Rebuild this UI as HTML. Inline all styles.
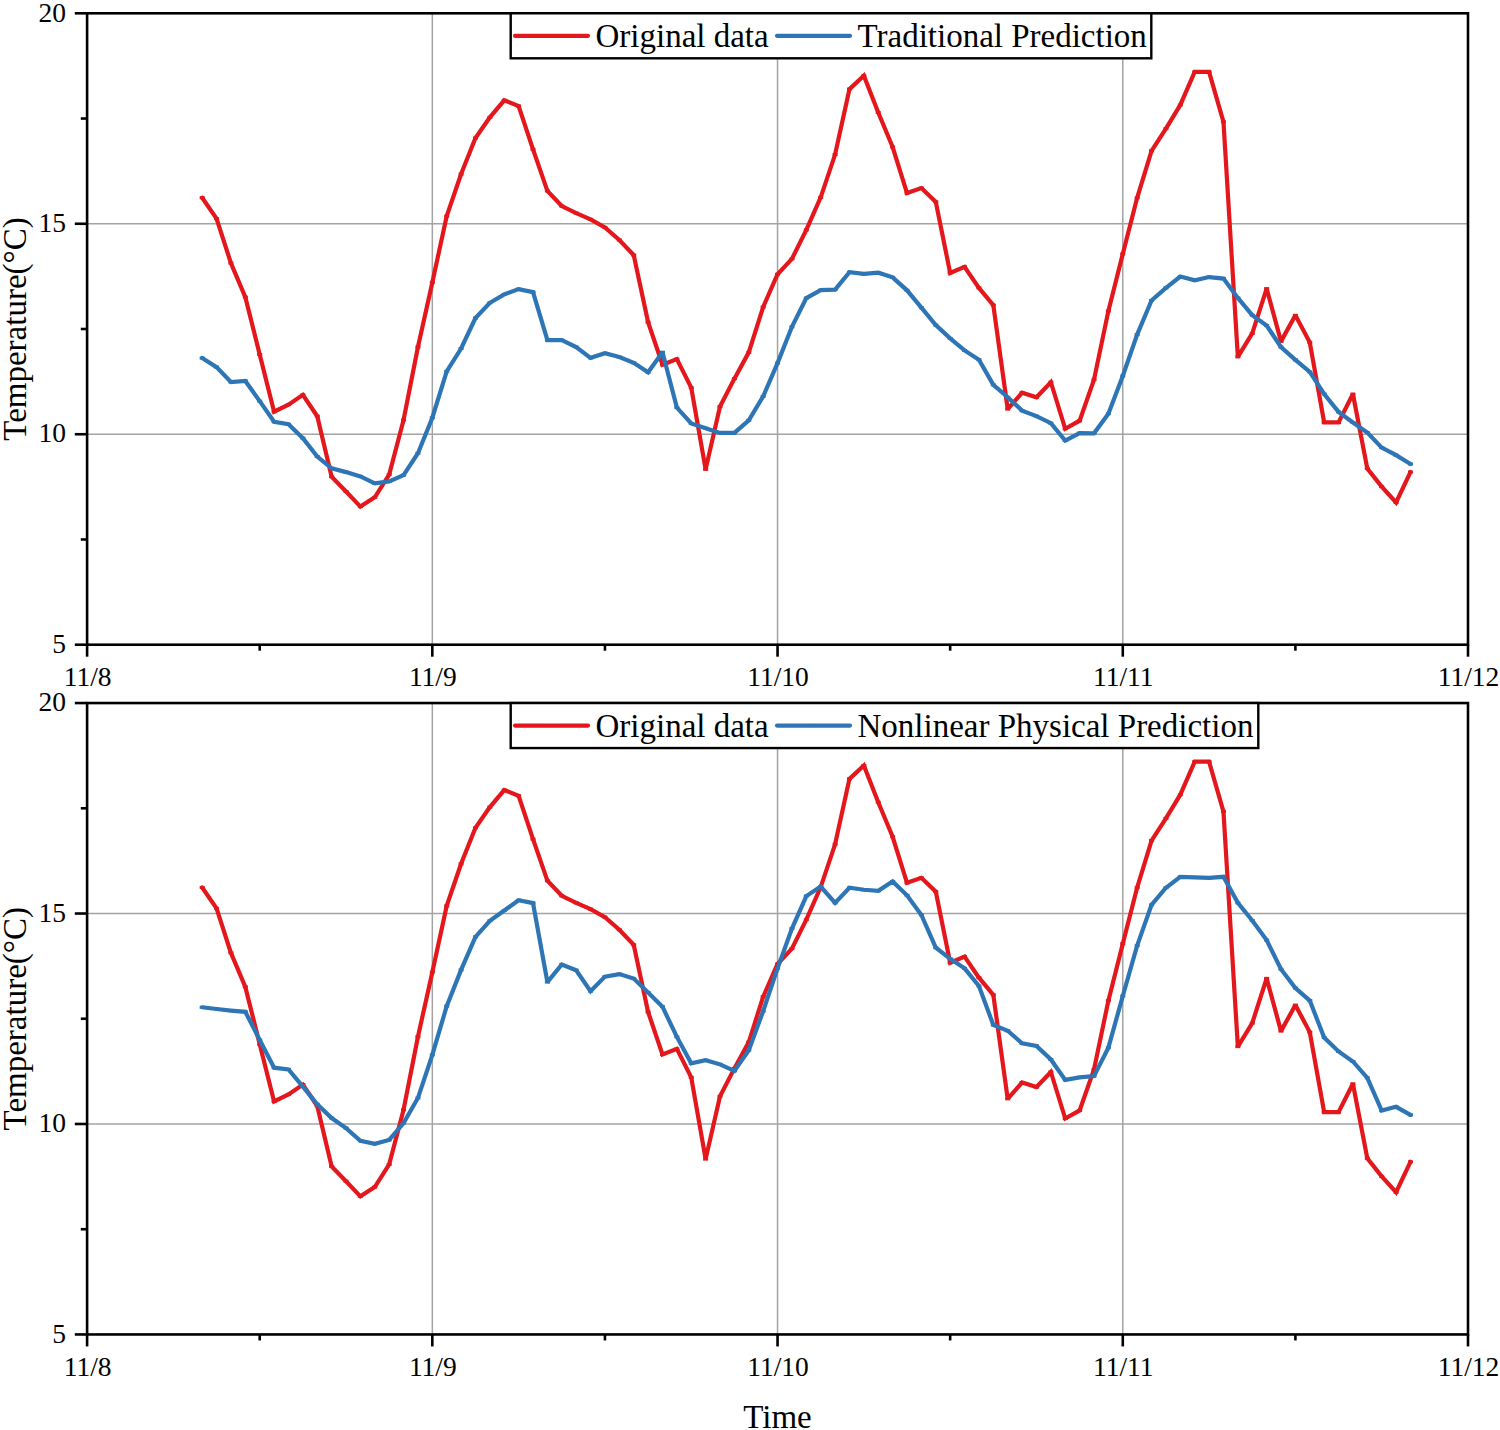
<!DOCTYPE html>
<html><head><meta charset="utf-8"><style>
html,body{margin:0;padding:0;background:#fff;width:1500px;height:1430px;overflow:hidden}
svg{display:block}
text{font-family:"Liberation Serif",serif;fill:#000}
.tk{font-size:27.5px}
.lb{font-size:33px}
.lg{font-size:33px}
</style></head><body>
<svg width="1500" height="1430" viewBox="0 0 1500 1430">
<line x1="87.1" x2="1468.0" y1="434.23" y2="434.23" stroke="#A3A3A3" stroke-width="1.5"/>
<line x1="87.1" x2="1468.0" y1="223.77" y2="223.77" stroke="#A3A3A3" stroke-width="1.5"/>
<line x1="432.33" x2="432.33" y1="13.3" y2="644.7" stroke="#A3A3A3" stroke-width="1.5"/>
<line x1="777.55" x2="777.55" y1="13.3" y2="644.7" stroke="#A3A3A3" stroke-width="1.5"/>
<line x1="1122.78" x2="1122.78" y1="13.3" y2="644.7" stroke="#A3A3A3" stroke-width="1.5"/>
<polyline points="202.18,197.69 216.56,218.59 230.94,263.15 245.33,297.14 259.71,354.54 274.10,411.69 288.48,404.64 302.87,394.82 317.25,416.22 331.63,476.65 346.02,491.50 360.40,506.61 374.79,497.29 389.17,474.63 403.56,420.00 417.94,346.99 432.33,282.42 446.71,216.08 461.09,174.05 475.48,138.05 489.86,117.40 504.25,100.28 518.63,106.07 533.02,149.38 547.40,190.92 561.78,206.02 576.17,213.07 590.55,219.37 604.94,227.42 619.32,240.01 633.71,255.12 648.09,322.22 662.48,364.77 676.86,359.10 691.24,387.68 705.63,469.39 720.01,406.56 734.40,378.62 748.78,352.32 763.17,307.00 777.55,274.27 791.93,258.85 806.32,229.89 820.70,197.35 835.09,154.55 849.47,89.09 863.86,75.75 878.24,112.51 892.62,147.00 907.01,193.07 921.39,188.04 935.78,201.88 950.16,272.95 964.55,266.85 978.93,287.88 993.32,305.12 1007.70,409.11 1022.08,392.75 1036.47,397.28 1050.85,382.18 1065.24,428.75 1079.62,420.69 1094.01,379.66 1108.39,310.91 1122.77,253.89 1137.16,197.85 1151.54,150.78 1165.93,128.62 1180.31,104.95 1194.70,71.97 1209.08,71.97 1223.47,121.82 1237.85,356.91 1252.23,333.41 1266.62,288.59 1281.00,341.37 1295.39,315.32 1309.77,342.38 1324.16,422.46 1338.54,422.46 1352.92,394.01 1367.31,468.53 1381.69,486.66 1396.08,502.52 1410.46,472.05" fill="none" stroke="#E3171C" stroke-width="4.2" stroke-linejoin="miter" stroke-miterlimit="2" stroke-linecap="round"/>
<rect x="199.68" y="196.19" width="5" height="3" fill="#E3171C"/><rect x="214.06" y="217.09" width="5" height="3" fill="#E3171C"/><rect x="228.44" y="261.65" width="5" height="3" fill="#E3171C"/><rect x="242.83" y="295.64" width="5" height="3" fill="#E3171C"/><rect x="257.21" y="353.04" width="5" height="3" fill="#E3171C"/><rect x="271.60" y="410.19" width="5" height="3" fill="#E3171C"/><rect x="285.98" y="403.14" width="5" height="3" fill="#E3171C"/><rect x="300.37" y="393.32" width="5" height="3" fill="#E3171C"/><rect x="314.75" y="414.72" width="5" height="3" fill="#E3171C"/><rect x="329.13" y="475.15" width="5" height="3" fill="#E3171C"/><rect x="343.52" y="490.00" width="5" height="3" fill="#E3171C"/><rect x="357.90" y="505.11" width="5" height="3" fill="#E3171C"/><rect x="372.29" y="495.79" width="5" height="3" fill="#E3171C"/><rect x="386.67" y="473.13" width="5" height="3" fill="#E3171C"/><rect x="401.06" y="418.50" width="5" height="3" fill="#E3171C"/><rect x="415.44" y="345.49" width="5" height="3" fill="#E3171C"/><rect x="429.83" y="280.92" width="5" height="3" fill="#E3171C"/><rect x="444.21" y="214.58" width="5" height="3" fill="#E3171C"/><rect x="458.59" y="172.55" width="5" height="3" fill="#E3171C"/><rect x="472.98" y="136.55" width="5" height="3" fill="#E3171C"/><rect x="487.36" y="115.90" width="5" height="3" fill="#E3171C"/><rect x="501.75" y="98.78" width="5" height="3" fill="#E3171C"/><rect x="516.13" y="104.57" width="5" height="3" fill="#E3171C"/><rect x="530.52" y="147.88" width="5" height="3" fill="#E3171C"/><rect x="544.90" y="189.42" width="5" height="3" fill="#E3171C"/><rect x="559.28" y="204.52" width="5" height="3" fill="#E3171C"/><rect x="573.67" y="211.57" width="5" height="3" fill="#E3171C"/><rect x="588.05" y="217.87" width="5" height="3" fill="#E3171C"/><rect x="602.44" y="225.92" width="5" height="3" fill="#E3171C"/><rect x="616.82" y="238.51" width="5" height="3" fill="#E3171C"/><rect x="631.21" y="253.62" width="5" height="3" fill="#E3171C"/><rect x="645.59" y="320.72" width="5" height="3" fill="#E3171C"/><rect x="659.98" y="363.27" width="5" height="3" fill="#E3171C"/><rect x="674.36" y="357.60" width="5" height="3" fill="#E3171C"/><rect x="688.74" y="386.18" width="5" height="3" fill="#E3171C"/><rect x="703.13" y="467.89" width="5" height="3" fill="#E3171C"/><rect x="717.51" y="405.06" width="5" height="3" fill="#E3171C"/><rect x="731.90" y="377.12" width="5" height="3" fill="#E3171C"/><rect x="746.28" y="350.82" width="5" height="3" fill="#E3171C"/><rect x="760.67" y="305.50" width="5" height="3" fill="#E3171C"/><rect x="775.05" y="272.77" width="5" height="3" fill="#E3171C"/><rect x="789.43" y="257.35" width="5" height="3" fill="#E3171C"/><rect x="803.82" y="228.39" width="5" height="3" fill="#E3171C"/><rect x="818.20" y="195.85" width="5" height="3" fill="#E3171C"/><rect x="832.59" y="153.05" width="5" height="3" fill="#E3171C"/><rect x="846.97" y="87.59" width="5" height="3" fill="#E3171C"/><rect x="861.36" y="74.25" width="5" height="3" fill="#E3171C"/><rect x="875.74" y="111.01" width="5" height="3" fill="#E3171C"/><rect x="890.12" y="145.50" width="5" height="3" fill="#E3171C"/><rect x="904.51" y="191.57" width="5" height="3" fill="#E3171C"/><rect x="918.89" y="186.54" width="5" height="3" fill="#E3171C"/><rect x="933.28" y="200.38" width="5" height="3" fill="#E3171C"/><rect x="947.66" y="271.45" width="5" height="3" fill="#E3171C"/><rect x="962.05" y="265.35" width="5" height="3" fill="#E3171C"/><rect x="976.43" y="286.38" width="5" height="3" fill="#E3171C"/><rect x="990.82" y="303.62" width="5" height="3" fill="#E3171C"/><rect x="1005.20" y="407.61" width="5" height="3" fill="#E3171C"/><rect x="1019.58" y="391.25" width="5" height="3" fill="#E3171C"/><rect x="1033.97" y="395.78" width="5" height="3" fill="#E3171C"/><rect x="1048.35" y="380.68" width="5" height="3" fill="#E3171C"/><rect x="1062.74" y="427.25" width="5" height="3" fill="#E3171C"/><rect x="1077.12" y="419.19" width="5" height="3" fill="#E3171C"/><rect x="1091.51" y="378.16" width="5" height="3" fill="#E3171C"/><rect x="1105.89" y="309.41" width="5" height="3" fill="#E3171C"/><rect x="1120.27" y="252.39" width="5" height="3" fill="#E3171C"/><rect x="1134.66" y="196.35" width="5" height="3" fill="#E3171C"/><rect x="1149.04" y="149.28" width="5" height="3" fill="#E3171C"/><rect x="1163.43" y="127.12" width="5" height="3" fill="#E3171C"/><rect x="1177.81" y="103.45" width="5" height="3" fill="#E3171C"/><rect x="1192.20" y="70.47" width="5" height="3" fill="#E3171C"/><rect x="1206.58" y="70.47" width="5" height="3" fill="#E3171C"/><rect x="1220.97" y="120.32" width="5" height="3" fill="#E3171C"/><rect x="1235.35" y="355.41" width="5" height="3" fill="#E3171C"/><rect x="1249.73" y="331.91" width="5" height="3" fill="#E3171C"/><rect x="1264.12" y="287.09" width="5" height="3" fill="#E3171C"/><rect x="1278.50" y="339.87" width="5" height="3" fill="#E3171C"/><rect x="1292.89" y="313.82" width="5" height="3" fill="#E3171C"/><rect x="1307.27" y="340.88" width="5" height="3" fill="#E3171C"/><rect x="1321.66" y="420.96" width="5" height="3" fill="#E3171C"/><rect x="1336.04" y="420.96" width="5" height="3" fill="#E3171C"/><rect x="1350.42" y="392.51" width="5" height="3" fill="#E3171C"/><rect x="1364.81" y="467.03" width="5" height="3" fill="#E3171C"/><rect x="1379.19" y="485.16" width="5" height="3" fill="#E3171C"/><rect x="1393.58" y="501.02" width="5" height="3" fill="#E3171C"/><rect x="1407.96" y="470.55" width="5" height="3" fill="#E3171C"/>
<polyline points="202.18,358.07 216.56,367.13 230.94,381.98 245.33,380.98 259.71,401.12 274.10,421.76 288.48,424.28 302.87,438.13 317.25,456.51 331.63,468.34 346.02,472.11 360.40,476.39 374.79,483.44 389.17,481.43 403.56,475.14 417.94,453.23 432.33,417.74 446.71,371.42 461.09,348.51 475.48,318.05 489.86,302.81 504.25,294.38 518.63,289.10 533.02,292.12 547.40,340.21 561.78,340.21 576.17,347.01 590.55,357.83 604.94,353.30 619.32,357.08 633.71,362.87 648.09,372.32 662.48,352.18 676.86,407.57 691.24,423.50 705.63,428.30 720.01,432.88 734.40,432.88 748.78,420.29 763.17,396.37 777.55,363.14 791.93,326.82 806.32,298.12 820.70,290.07 835.09,289.56 849.47,272.19 863.86,273.95 878.24,272.69 892.62,277.35 907.01,290.32 921.39,307.69 935.78,325.06 950.16,338.40 964.55,350.42 978.93,359.63 993.32,384.80 1007.70,397.28 1022.08,410.62 1036.47,416.16 1050.85,423.21 1065.24,440.58 1079.62,433.03 1094.01,433.28 1108.39,413.65 1122.77,375.99 1137.16,334.58 1151.54,300.46 1165.93,287.88 1180.31,276.55 1194.70,280.32 1209.08,277.05 1223.47,278.56 1237.85,297.91 1252.23,315.11 1266.62,325.60 1281.00,347.04 1295.39,359.88 1309.77,371.96 1324.16,393.99 1338.54,411.88 1352.92,422.46 1367.31,432.53 1381.69,447.63 1396.08,455.19 1410.46,464.00" fill="none" stroke="#2E75B6" stroke-width="4.2" stroke-linejoin="miter" stroke-miterlimit="2" stroke-linecap="round"/>
<rect x="199.68" y="356.57" width="5" height="3" fill="#2E75B6"/><rect x="214.06" y="365.63" width="5" height="3" fill="#2E75B6"/><rect x="228.44" y="380.48" width="5" height="3" fill="#2E75B6"/><rect x="242.83" y="379.48" width="5" height="3" fill="#2E75B6"/><rect x="257.21" y="399.62" width="5" height="3" fill="#2E75B6"/><rect x="271.60" y="420.26" width="5" height="3" fill="#2E75B6"/><rect x="285.98" y="422.78" width="5" height="3" fill="#2E75B6"/><rect x="300.37" y="436.63" width="5" height="3" fill="#2E75B6"/><rect x="314.75" y="455.01" width="5" height="3" fill="#2E75B6"/><rect x="329.13" y="466.84" width="5" height="3" fill="#2E75B6"/><rect x="343.52" y="470.61" width="5" height="3" fill="#2E75B6"/><rect x="357.90" y="474.89" width="5" height="3" fill="#2E75B6"/><rect x="372.29" y="481.94" width="5" height="3" fill="#2E75B6"/><rect x="386.67" y="479.93" width="5" height="3" fill="#2E75B6"/><rect x="401.06" y="473.64" width="5" height="3" fill="#2E75B6"/><rect x="415.44" y="451.73" width="5" height="3" fill="#2E75B6"/><rect x="429.83" y="416.24" width="5" height="3" fill="#2E75B6"/><rect x="444.21" y="369.92" width="5" height="3" fill="#2E75B6"/><rect x="458.59" y="347.01" width="5" height="3" fill="#2E75B6"/><rect x="472.98" y="316.55" width="5" height="3" fill="#2E75B6"/><rect x="487.36" y="301.31" width="5" height="3" fill="#2E75B6"/><rect x="501.75" y="292.88" width="5" height="3" fill="#2E75B6"/><rect x="516.13" y="287.60" width="5" height="3" fill="#2E75B6"/><rect x="530.52" y="290.62" width="5" height="3" fill="#2E75B6"/><rect x="544.90" y="338.71" width="5" height="3" fill="#2E75B6"/><rect x="559.28" y="338.71" width="5" height="3" fill="#2E75B6"/><rect x="573.67" y="345.51" width="5" height="3" fill="#2E75B6"/><rect x="588.05" y="356.33" width="5" height="3" fill="#2E75B6"/><rect x="602.44" y="351.80" width="5" height="3" fill="#2E75B6"/><rect x="616.82" y="355.58" width="5" height="3" fill="#2E75B6"/><rect x="631.21" y="361.37" width="5" height="3" fill="#2E75B6"/><rect x="645.59" y="370.82" width="5" height="3" fill="#2E75B6"/><rect x="659.98" y="350.68" width="5" height="3" fill="#2E75B6"/><rect x="674.36" y="406.07" width="5" height="3" fill="#2E75B6"/><rect x="688.74" y="422.00" width="5" height="3" fill="#2E75B6"/><rect x="703.13" y="426.80" width="5" height="3" fill="#2E75B6"/><rect x="717.51" y="431.38" width="5" height="3" fill="#2E75B6"/><rect x="731.90" y="431.38" width="5" height="3" fill="#2E75B6"/><rect x="746.28" y="418.79" width="5" height="3" fill="#2E75B6"/><rect x="760.67" y="394.87" width="5" height="3" fill="#2E75B6"/><rect x="775.05" y="361.64" width="5" height="3" fill="#2E75B6"/><rect x="789.43" y="325.32" width="5" height="3" fill="#2E75B6"/><rect x="803.82" y="296.62" width="5" height="3" fill="#2E75B6"/><rect x="818.20" y="288.57" width="5" height="3" fill="#2E75B6"/><rect x="832.59" y="288.06" width="5" height="3" fill="#2E75B6"/><rect x="846.97" y="270.69" width="5" height="3" fill="#2E75B6"/><rect x="861.36" y="272.45" width="5" height="3" fill="#2E75B6"/><rect x="875.74" y="271.19" width="5" height="3" fill="#2E75B6"/><rect x="890.12" y="275.85" width="5" height="3" fill="#2E75B6"/><rect x="904.51" y="288.82" width="5" height="3" fill="#2E75B6"/><rect x="918.89" y="306.19" width="5" height="3" fill="#2E75B6"/><rect x="933.28" y="323.56" width="5" height="3" fill="#2E75B6"/><rect x="947.66" y="336.90" width="5" height="3" fill="#2E75B6"/><rect x="962.05" y="348.92" width="5" height="3" fill="#2E75B6"/><rect x="976.43" y="358.13" width="5" height="3" fill="#2E75B6"/><rect x="990.82" y="383.30" width="5" height="3" fill="#2E75B6"/><rect x="1005.20" y="395.78" width="5" height="3" fill="#2E75B6"/><rect x="1019.58" y="409.12" width="5" height="3" fill="#2E75B6"/><rect x="1033.97" y="414.66" width="5" height="3" fill="#2E75B6"/><rect x="1048.35" y="421.71" width="5" height="3" fill="#2E75B6"/><rect x="1062.74" y="439.08" width="5" height="3" fill="#2E75B6"/><rect x="1077.12" y="431.53" width="5" height="3" fill="#2E75B6"/><rect x="1091.51" y="431.78" width="5" height="3" fill="#2E75B6"/><rect x="1105.89" y="412.15" width="5" height="3" fill="#2E75B6"/><rect x="1120.27" y="374.49" width="5" height="3" fill="#2E75B6"/><rect x="1134.66" y="333.08" width="5" height="3" fill="#2E75B6"/><rect x="1149.04" y="298.96" width="5" height="3" fill="#2E75B6"/><rect x="1163.43" y="286.38" width="5" height="3" fill="#2E75B6"/><rect x="1177.81" y="275.05" width="5" height="3" fill="#2E75B6"/><rect x="1192.20" y="278.82" width="5" height="3" fill="#2E75B6"/><rect x="1206.58" y="275.55" width="5" height="3" fill="#2E75B6"/><rect x="1220.97" y="277.06" width="5" height="3" fill="#2E75B6"/><rect x="1235.35" y="296.41" width="5" height="3" fill="#2E75B6"/><rect x="1249.73" y="313.61" width="5" height="3" fill="#2E75B6"/><rect x="1264.12" y="324.10" width="5" height="3" fill="#2E75B6"/><rect x="1278.50" y="345.54" width="5" height="3" fill="#2E75B6"/><rect x="1292.89" y="358.38" width="5" height="3" fill="#2E75B6"/><rect x="1307.27" y="370.46" width="5" height="3" fill="#2E75B6"/><rect x="1321.66" y="392.49" width="5" height="3" fill="#2E75B6"/><rect x="1336.04" y="410.38" width="5" height="3" fill="#2E75B6"/><rect x="1350.42" y="420.96" width="5" height="3" fill="#2E75B6"/><rect x="1364.81" y="431.03" width="5" height="3" fill="#2E75B6"/><rect x="1379.19" y="446.13" width="5" height="3" fill="#2E75B6"/><rect x="1393.58" y="453.69" width="5" height="3" fill="#2E75B6"/><rect x="1407.96" y="462.50" width="5" height="3" fill="#2E75B6"/>
<rect x="87.1" y="13.3" width="1380.90" height="631.40" fill="none" stroke="#000" stroke-width="2.6"/>
<line x1="87.10" x2="87.10" y1="644.7" y2="656.70" stroke="#000" stroke-width="2.6"/>
<line x1="432.33" x2="432.33" y1="644.7" y2="656.70" stroke="#000" stroke-width="2.6"/>
<line x1="777.55" x2="777.55" y1="644.7" y2="656.70" stroke="#000" stroke-width="2.6"/>
<line x1="1122.78" x2="1122.78" y1="644.7" y2="656.70" stroke="#000" stroke-width="2.6"/>
<line x1="1468.00" x2="1468.00" y1="644.7" y2="656.70" stroke="#000" stroke-width="2.6"/>
<line x1="259.71" x2="259.71" y1="644.7" y2="650.70" stroke="#000" stroke-width="2.6"/>
<line x1="604.94" x2="604.94" y1="644.7" y2="650.70" stroke="#000" stroke-width="2.6"/>
<line x1="950.16" x2="950.16" y1="644.7" y2="650.70" stroke="#000" stroke-width="2.6"/>
<line x1="1295.39" x2="1295.39" y1="644.7" y2="650.70" stroke="#000" stroke-width="2.6"/>
<line x1="74.80" x2="87.1" y1="644.70" y2="644.70" stroke="#000" stroke-width="2.6"/>
<line x1="74.80" x2="87.1" y1="434.23" y2="434.23" stroke="#000" stroke-width="2.6"/>
<line x1="74.80" x2="87.1" y1="223.77" y2="223.77" stroke="#000" stroke-width="2.6"/>
<line x1="74.80" x2="87.1" y1="13.30" y2="13.30" stroke="#000" stroke-width="2.6"/>
<line x1="80.80" x2="87.1" y1="539.47" y2="539.47" stroke="#000" stroke-width="2.6"/>
<line x1="80.80" x2="87.1" y1="329.00" y2="329.00" stroke="#000" stroke-width="2.6"/>
<line x1="80.80" x2="87.1" y1="118.53" y2="118.53" stroke="#000" stroke-width="2.6"/>
<text x="66.10" y="652.90" text-anchor="end" class="tk">5</text>
<text x="66.10" y="442.43" text-anchor="end" class="tk">10</text>
<text x="66.10" y="231.97" text-anchor="end" class="tk">15</text>
<text x="66.10" y="21.50" text-anchor="end" class="tk">20</text>
<text x="87.60" y="686.40" text-anchor="middle" class="tk">11/8</text>
<text x="432.83" y="686.40" text-anchor="middle" class="tk">11/9</text>
<text x="778.05" y="686.40" text-anchor="middle" class="tk">11/10</text>
<text x="1123.28" y="686.40" text-anchor="middle" class="tk">11/11</text>
<text x="1468.50" y="686.40" text-anchor="middle" class="tk">11/12</text>
<text transform="translate(25.6,329.00) rotate(-90)" text-anchor="middle" class="lb">Temperature(°C)</text>
<rect x="510.7" y="13.3" width="640.60" height="45" fill="#fff" stroke="#000" stroke-width="2.4"/>
<line x1="515" x2="588" y1="35.80" y2="35.80" stroke="#E3171C" stroke-width="4.2" stroke-linecap="round"/>
<text x="595.5" y="47.10" class="lg">Original data</text>
<line x1="777" x2="850" y1="35.80" y2="35.80" stroke="#2E75B6" stroke-width="4.2" stroke-linecap="round"/>
<rect x="549" y="34.30" width="5" height="3" fill="#E3171C"/>
<rect x="811" y="34.30" width="5" height="3" fill="#2E75B6"/>
<text x="857.5" y="47.10" class="lg">Traditional Prediction</text>
<line x1="87.1" x2="1468.0" y1="1123.98" y2="1123.98" stroke="#A3A3A3" stroke-width="1.5"/>
<line x1="87.1" x2="1468.0" y1="913.52" y2="913.52" stroke="#A3A3A3" stroke-width="1.5"/>
<line x1="432.33" x2="432.33" y1="703.05" y2="1334.45" stroke="#A3A3A3" stroke-width="1.5"/>
<line x1="777.55" x2="777.55" y1="703.05" y2="1334.45" stroke="#A3A3A3" stroke-width="1.5"/>
<line x1="1122.78" x2="1122.78" y1="703.05" y2="1334.45" stroke="#A3A3A3" stroke-width="1.5"/>
<polyline points="202.18,887.44 216.56,908.34 230.94,952.90 245.33,986.89 259.71,1044.29 274.10,1101.44 288.48,1094.39 302.87,1084.57 317.25,1105.97 331.63,1166.40 346.02,1181.25 360.40,1196.36 374.79,1187.04 389.17,1164.38 403.56,1109.75 417.94,1036.74 432.33,972.17 446.71,905.83 461.09,863.80 475.48,827.80 489.86,807.15 504.25,790.03 518.63,795.82 533.02,839.13 547.40,880.67 561.78,895.77 576.17,902.82 590.55,909.12 604.94,917.17 619.32,929.76 633.71,944.87 648.09,1011.97 662.48,1054.52 676.86,1048.85 691.24,1077.43 705.63,1159.14 720.01,1096.31 734.40,1068.37 748.78,1042.07 763.17,996.75 777.55,964.02 791.93,948.60 806.32,919.64 820.70,887.10 835.09,844.30 849.47,778.84 863.86,765.50 878.24,802.26 892.62,836.75 907.01,882.82 921.39,877.79 935.78,891.63 950.16,962.70 964.55,956.60 978.93,977.63 993.32,994.87 1007.70,1098.86 1022.08,1082.50 1036.47,1087.03 1050.85,1071.93 1065.24,1118.50 1079.62,1110.44 1094.01,1069.41 1108.39,1000.66 1122.77,943.64 1137.16,887.60 1151.54,840.53 1165.93,818.37 1180.31,794.70 1194.70,761.72 1209.08,761.72 1223.47,811.57 1237.85,1046.66 1252.23,1023.16 1266.62,978.34 1281.00,1031.12 1295.39,1005.07 1309.77,1032.13 1324.16,1112.21 1338.54,1112.21 1352.92,1083.76 1367.31,1158.28 1381.69,1176.41 1396.08,1192.27 1410.46,1161.80" fill="none" stroke="#E3171C" stroke-width="4.2" stroke-linejoin="miter" stroke-miterlimit="2" stroke-linecap="round"/>
<rect x="199.68" y="885.94" width="5" height="3" fill="#E3171C"/><rect x="214.06" y="906.84" width="5" height="3" fill="#E3171C"/><rect x="228.44" y="951.40" width="5" height="3" fill="#E3171C"/><rect x="242.83" y="985.39" width="5" height="3" fill="#E3171C"/><rect x="257.21" y="1042.79" width="5" height="3" fill="#E3171C"/><rect x="271.60" y="1099.94" width="5" height="3" fill="#E3171C"/><rect x="285.98" y="1092.89" width="5" height="3" fill="#E3171C"/><rect x="300.37" y="1083.07" width="5" height="3" fill="#E3171C"/><rect x="314.75" y="1104.47" width="5" height="3" fill="#E3171C"/><rect x="329.13" y="1164.90" width="5" height="3" fill="#E3171C"/><rect x="343.52" y="1179.75" width="5" height="3" fill="#E3171C"/><rect x="357.90" y="1194.86" width="5" height="3" fill="#E3171C"/><rect x="372.29" y="1185.54" width="5" height="3" fill="#E3171C"/><rect x="386.67" y="1162.88" width="5" height="3" fill="#E3171C"/><rect x="401.06" y="1108.25" width="5" height="3" fill="#E3171C"/><rect x="415.44" y="1035.24" width="5" height="3" fill="#E3171C"/><rect x="429.83" y="970.67" width="5" height="3" fill="#E3171C"/><rect x="444.21" y="904.33" width="5" height="3" fill="#E3171C"/><rect x="458.59" y="862.30" width="5" height="3" fill="#E3171C"/><rect x="472.98" y="826.30" width="5" height="3" fill="#E3171C"/><rect x="487.36" y="805.65" width="5" height="3" fill="#E3171C"/><rect x="501.75" y="788.53" width="5" height="3" fill="#E3171C"/><rect x="516.13" y="794.32" width="5" height="3" fill="#E3171C"/><rect x="530.52" y="837.63" width="5" height="3" fill="#E3171C"/><rect x="544.90" y="879.17" width="5" height="3" fill="#E3171C"/><rect x="559.28" y="894.27" width="5" height="3" fill="#E3171C"/><rect x="573.67" y="901.32" width="5" height="3" fill="#E3171C"/><rect x="588.05" y="907.62" width="5" height="3" fill="#E3171C"/><rect x="602.44" y="915.67" width="5" height="3" fill="#E3171C"/><rect x="616.82" y="928.26" width="5" height="3" fill="#E3171C"/><rect x="631.21" y="943.37" width="5" height="3" fill="#E3171C"/><rect x="645.59" y="1010.47" width="5" height="3" fill="#E3171C"/><rect x="659.98" y="1053.02" width="5" height="3" fill="#E3171C"/><rect x="674.36" y="1047.35" width="5" height="3" fill="#E3171C"/><rect x="688.74" y="1075.93" width="5" height="3" fill="#E3171C"/><rect x="703.13" y="1157.64" width="5" height="3" fill="#E3171C"/><rect x="717.51" y="1094.81" width="5" height="3" fill="#E3171C"/><rect x="731.90" y="1066.87" width="5" height="3" fill="#E3171C"/><rect x="746.28" y="1040.57" width="5" height="3" fill="#E3171C"/><rect x="760.67" y="995.25" width="5" height="3" fill="#E3171C"/><rect x="775.05" y="962.52" width="5" height="3" fill="#E3171C"/><rect x="789.43" y="947.10" width="5" height="3" fill="#E3171C"/><rect x="803.82" y="918.14" width="5" height="3" fill="#E3171C"/><rect x="818.20" y="885.60" width="5" height="3" fill="#E3171C"/><rect x="832.59" y="842.80" width="5" height="3" fill="#E3171C"/><rect x="846.97" y="777.34" width="5" height="3" fill="#E3171C"/><rect x="861.36" y="764.00" width="5" height="3" fill="#E3171C"/><rect x="875.74" y="800.76" width="5" height="3" fill="#E3171C"/><rect x="890.12" y="835.25" width="5" height="3" fill="#E3171C"/><rect x="904.51" y="881.32" width="5" height="3" fill="#E3171C"/><rect x="918.89" y="876.29" width="5" height="3" fill="#E3171C"/><rect x="933.28" y="890.13" width="5" height="3" fill="#E3171C"/><rect x="947.66" y="961.20" width="5" height="3" fill="#E3171C"/><rect x="962.05" y="955.10" width="5" height="3" fill="#E3171C"/><rect x="976.43" y="976.13" width="5" height="3" fill="#E3171C"/><rect x="990.82" y="993.37" width="5" height="3" fill="#E3171C"/><rect x="1005.20" y="1097.36" width="5" height="3" fill="#E3171C"/><rect x="1019.58" y="1081.00" width="5" height="3" fill="#E3171C"/><rect x="1033.97" y="1085.53" width="5" height="3" fill="#E3171C"/><rect x="1048.35" y="1070.43" width="5" height="3" fill="#E3171C"/><rect x="1062.74" y="1117.00" width="5" height="3" fill="#E3171C"/><rect x="1077.12" y="1108.94" width="5" height="3" fill="#E3171C"/><rect x="1091.51" y="1067.91" width="5" height="3" fill="#E3171C"/><rect x="1105.89" y="999.16" width="5" height="3" fill="#E3171C"/><rect x="1120.27" y="942.14" width="5" height="3" fill="#E3171C"/><rect x="1134.66" y="886.10" width="5" height="3" fill="#E3171C"/><rect x="1149.04" y="839.03" width="5" height="3" fill="#E3171C"/><rect x="1163.43" y="816.87" width="5" height="3" fill="#E3171C"/><rect x="1177.81" y="793.20" width="5" height="3" fill="#E3171C"/><rect x="1192.20" y="760.22" width="5" height="3" fill="#E3171C"/><rect x="1206.58" y="760.22" width="5" height="3" fill="#E3171C"/><rect x="1220.97" y="810.07" width="5" height="3" fill="#E3171C"/><rect x="1235.35" y="1045.16" width="5" height="3" fill="#E3171C"/><rect x="1249.73" y="1021.66" width="5" height="3" fill="#E3171C"/><rect x="1264.12" y="976.84" width="5" height="3" fill="#E3171C"/><rect x="1278.50" y="1029.62" width="5" height="3" fill="#E3171C"/><rect x="1292.89" y="1003.57" width="5" height="3" fill="#E3171C"/><rect x="1307.27" y="1030.63" width="5" height="3" fill="#E3171C"/><rect x="1321.66" y="1110.71" width="5" height="3" fill="#E3171C"/><rect x="1336.04" y="1110.71" width="5" height="3" fill="#E3171C"/><rect x="1350.42" y="1082.26" width="5" height="3" fill="#E3171C"/><rect x="1364.81" y="1156.78" width="5" height="3" fill="#E3171C"/><rect x="1379.19" y="1174.91" width="5" height="3" fill="#E3171C"/><rect x="1393.58" y="1190.77" width="5" height="3" fill="#E3171C"/><rect x="1407.96" y="1160.30" width="5" height="3" fill="#E3171C"/>
<polyline points="202.18,1007.28 216.56,1009.04 230.94,1010.55 245.33,1011.81 259.71,1040.01 274.10,1067.70 288.48,1069.47 302.87,1086.59 317.25,1104.21 331.63,1118.06 346.02,1128.13 360.40,1140.72 374.79,1143.74 389.17,1139.96 403.56,1123.09 417.94,1097.92 432.33,1054.87 446.71,1006.16 461.09,969.90 475.48,936.80 489.86,920.81 504.25,910.50 518.63,900.30 533.02,903.07 547.40,982.12 561.78,964.50 576.17,970.29 590.55,991.19 604.94,976.59 619.32,974.07 633.71,978.60 648.09,992.45 662.48,1006.70 676.86,1036.91 691.24,1063.34 705.63,1060.20 720.01,1064.35 734.40,1070.90 748.78,1050.15 763.17,1011.13 777.55,968.33 791.93,928.55 806.32,896.07 820.70,886.51 835.09,902.87 849.47,887.76 863.86,889.78 878.24,890.79 892.62,881.47 907.01,895.32 921.39,914.95 935.78,947.68 950.16,958.76 964.55,968.33 978.93,985.95 993.32,1024.97 1007.70,1030.77 1022.08,1043.35 1036.47,1045.87 1050.85,1059.47 1065.24,1079.86 1079.62,1077.34 1094.01,1076.08 1108.39,1047.63 1122.77,996.02 1137.16,945.67 1151.54,904.88 1165.93,887.76 1180.31,876.81 1194.70,877.44 1209.08,877.95 1223.47,876.81 1237.85,902.87 1252.23,920.49 1266.62,940.13 1281.00,969.21 1295.39,987.97 1309.77,1000.55 1324.16,1037.56 1338.54,1051.41 1352.92,1061.48 1367.31,1077.84 1381.69,1110.57 1396.08,1106.80 1410.46,1114.85" fill="none" stroke="#2E75B6" stroke-width="4.2" stroke-linejoin="miter" stroke-miterlimit="2" stroke-linecap="round"/>
<rect x="199.68" y="1005.78" width="5" height="3" fill="#2E75B6"/><rect x="214.06" y="1007.54" width="5" height="3" fill="#2E75B6"/><rect x="228.44" y="1009.05" width="5" height="3" fill="#2E75B6"/><rect x="242.83" y="1010.31" width="5" height="3" fill="#2E75B6"/><rect x="257.21" y="1038.51" width="5" height="3" fill="#2E75B6"/><rect x="271.60" y="1066.20" width="5" height="3" fill="#2E75B6"/><rect x="285.98" y="1067.97" width="5" height="3" fill="#2E75B6"/><rect x="300.37" y="1085.09" width="5" height="3" fill="#2E75B6"/><rect x="314.75" y="1102.71" width="5" height="3" fill="#2E75B6"/><rect x="329.13" y="1116.56" width="5" height="3" fill="#2E75B6"/><rect x="343.52" y="1126.63" width="5" height="3" fill="#2E75B6"/><rect x="357.90" y="1139.22" width="5" height="3" fill="#2E75B6"/><rect x="372.29" y="1142.24" width="5" height="3" fill="#2E75B6"/><rect x="386.67" y="1138.46" width="5" height="3" fill="#2E75B6"/><rect x="401.06" y="1121.59" width="5" height="3" fill="#2E75B6"/><rect x="415.44" y="1096.42" width="5" height="3" fill="#2E75B6"/><rect x="429.83" y="1053.37" width="5" height="3" fill="#2E75B6"/><rect x="444.21" y="1004.66" width="5" height="3" fill="#2E75B6"/><rect x="458.59" y="968.40" width="5" height="3" fill="#2E75B6"/><rect x="472.98" y="935.30" width="5" height="3" fill="#2E75B6"/><rect x="487.36" y="919.31" width="5" height="3" fill="#2E75B6"/><rect x="501.75" y="909.00" width="5" height="3" fill="#2E75B6"/><rect x="516.13" y="898.80" width="5" height="3" fill="#2E75B6"/><rect x="530.52" y="901.57" width="5" height="3" fill="#2E75B6"/><rect x="544.90" y="980.62" width="5" height="3" fill="#2E75B6"/><rect x="559.28" y="963.00" width="5" height="3" fill="#2E75B6"/><rect x="573.67" y="968.79" width="5" height="3" fill="#2E75B6"/><rect x="588.05" y="989.69" width="5" height="3" fill="#2E75B6"/><rect x="602.44" y="975.09" width="5" height="3" fill="#2E75B6"/><rect x="616.82" y="972.57" width="5" height="3" fill="#2E75B6"/><rect x="631.21" y="977.10" width="5" height="3" fill="#2E75B6"/><rect x="645.59" y="990.95" width="5" height="3" fill="#2E75B6"/><rect x="659.98" y="1005.20" width="5" height="3" fill="#2E75B6"/><rect x="674.36" y="1035.41" width="5" height="3" fill="#2E75B6"/><rect x="688.74" y="1061.84" width="5" height="3" fill="#2E75B6"/><rect x="703.13" y="1058.70" width="5" height="3" fill="#2E75B6"/><rect x="717.51" y="1062.85" width="5" height="3" fill="#2E75B6"/><rect x="731.90" y="1069.40" width="5" height="3" fill="#2E75B6"/><rect x="746.28" y="1048.65" width="5" height="3" fill="#2E75B6"/><rect x="760.67" y="1009.63" width="5" height="3" fill="#2E75B6"/><rect x="775.05" y="966.83" width="5" height="3" fill="#2E75B6"/><rect x="789.43" y="927.05" width="5" height="3" fill="#2E75B6"/><rect x="803.82" y="894.57" width="5" height="3" fill="#2E75B6"/><rect x="818.20" y="885.01" width="5" height="3" fill="#2E75B6"/><rect x="832.59" y="901.37" width="5" height="3" fill="#2E75B6"/><rect x="846.97" y="886.26" width="5" height="3" fill="#2E75B6"/><rect x="861.36" y="888.28" width="5" height="3" fill="#2E75B6"/><rect x="875.74" y="889.29" width="5" height="3" fill="#2E75B6"/><rect x="890.12" y="879.97" width="5" height="3" fill="#2E75B6"/><rect x="904.51" y="893.82" width="5" height="3" fill="#2E75B6"/><rect x="918.89" y="913.45" width="5" height="3" fill="#2E75B6"/><rect x="933.28" y="946.18" width="5" height="3" fill="#2E75B6"/><rect x="947.66" y="957.26" width="5" height="3" fill="#2E75B6"/><rect x="962.05" y="966.83" width="5" height="3" fill="#2E75B6"/><rect x="976.43" y="984.45" width="5" height="3" fill="#2E75B6"/><rect x="990.82" y="1023.47" width="5" height="3" fill="#2E75B6"/><rect x="1005.20" y="1029.27" width="5" height="3" fill="#2E75B6"/><rect x="1019.58" y="1041.85" width="5" height="3" fill="#2E75B6"/><rect x="1033.97" y="1044.37" width="5" height="3" fill="#2E75B6"/><rect x="1048.35" y="1057.97" width="5" height="3" fill="#2E75B6"/><rect x="1062.74" y="1078.36" width="5" height="3" fill="#2E75B6"/><rect x="1077.12" y="1075.84" width="5" height="3" fill="#2E75B6"/><rect x="1091.51" y="1074.58" width="5" height="3" fill="#2E75B6"/><rect x="1105.89" y="1046.13" width="5" height="3" fill="#2E75B6"/><rect x="1120.27" y="994.52" width="5" height="3" fill="#2E75B6"/><rect x="1134.66" y="944.17" width="5" height="3" fill="#2E75B6"/><rect x="1149.04" y="903.38" width="5" height="3" fill="#2E75B6"/><rect x="1163.43" y="886.26" width="5" height="3" fill="#2E75B6"/><rect x="1177.81" y="875.31" width="5" height="3" fill="#2E75B6"/><rect x="1192.20" y="875.94" width="5" height="3" fill="#2E75B6"/><rect x="1206.58" y="876.45" width="5" height="3" fill="#2E75B6"/><rect x="1220.97" y="875.31" width="5" height="3" fill="#2E75B6"/><rect x="1235.35" y="901.37" width="5" height="3" fill="#2E75B6"/><rect x="1249.73" y="918.99" width="5" height="3" fill="#2E75B6"/><rect x="1264.12" y="938.63" width="5" height="3" fill="#2E75B6"/><rect x="1278.50" y="967.71" width="5" height="3" fill="#2E75B6"/><rect x="1292.89" y="986.47" width="5" height="3" fill="#2E75B6"/><rect x="1307.27" y="999.05" width="5" height="3" fill="#2E75B6"/><rect x="1321.66" y="1036.06" width="5" height="3" fill="#2E75B6"/><rect x="1336.04" y="1049.91" width="5" height="3" fill="#2E75B6"/><rect x="1350.42" y="1059.98" width="5" height="3" fill="#2E75B6"/><rect x="1364.81" y="1076.34" width="5" height="3" fill="#2E75B6"/><rect x="1379.19" y="1109.07" width="5" height="3" fill="#2E75B6"/><rect x="1393.58" y="1105.30" width="5" height="3" fill="#2E75B6"/><rect x="1407.96" y="1113.35" width="5" height="3" fill="#2E75B6"/>
<rect x="87.1" y="703.05" width="1380.90" height="631.40" fill="none" stroke="#000" stroke-width="2.6"/>
<line x1="87.10" x2="87.10" y1="1334.45" y2="1346.45" stroke="#000" stroke-width="2.6"/>
<line x1="432.33" x2="432.33" y1="1334.45" y2="1346.45" stroke="#000" stroke-width="2.6"/>
<line x1="777.55" x2="777.55" y1="1334.45" y2="1346.45" stroke="#000" stroke-width="2.6"/>
<line x1="1122.78" x2="1122.78" y1="1334.45" y2="1346.45" stroke="#000" stroke-width="2.6"/>
<line x1="1468.00" x2="1468.00" y1="1334.45" y2="1346.45" stroke="#000" stroke-width="2.6"/>
<line x1="259.71" x2="259.71" y1="1334.45" y2="1340.45" stroke="#000" stroke-width="2.6"/>
<line x1="604.94" x2="604.94" y1="1334.45" y2="1340.45" stroke="#000" stroke-width="2.6"/>
<line x1="950.16" x2="950.16" y1="1334.45" y2="1340.45" stroke="#000" stroke-width="2.6"/>
<line x1="1295.39" x2="1295.39" y1="1334.45" y2="1340.45" stroke="#000" stroke-width="2.6"/>
<line x1="74.80" x2="87.1" y1="1334.45" y2="1334.45" stroke="#000" stroke-width="2.6"/>
<line x1="74.80" x2="87.1" y1="1123.98" y2="1123.98" stroke="#000" stroke-width="2.6"/>
<line x1="74.80" x2="87.1" y1="913.52" y2="913.52" stroke="#000" stroke-width="2.6"/>
<line x1="74.80" x2="87.1" y1="703.05" y2="703.05" stroke="#000" stroke-width="2.6"/>
<line x1="80.80" x2="87.1" y1="1229.22" y2="1229.22" stroke="#000" stroke-width="2.6"/>
<line x1="80.80" x2="87.1" y1="1018.75" y2="1018.75" stroke="#000" stroke-width="2.6"/>
<line x1="80.80" x2="87.1" y1="808.28" y2="808.28" stroke="#000" stroke-width="2.6"/>
<text x="66.10" y="1342.65" text-anchor="end" class="tk">5</text>
<text x="66.10" y="1132.18" text-anchor="end" class="tk">10</text>
<text x="66.10" y="921.72" text-anchor="end" class="tk">15</text>
<text x="66.10" y="711.25" text-anchor="end" class="tk">20</text>
<text x="87.60" y="1376.15" text-anchor="middle" class="tk">11/8</text>
<text x="432.83" y="1376.15" text-anchor="middle" class="tk">11/9</text>
<text x="778.05" y="1376.15" text-anchor="middle" class="tk">11/10</text>
<text x="1123.28" y="1376.15" text-anchor="middle" class="tk">11/11</text>
<text x="1468.50" y="1376.15" text-anchor="middle" class="tk">11/12</text>
<text transform="translate(25.6,1018.75) rotate(-90)" text-anchor="middle" class="lb">Temperature(°C)</text>
<rect x="510.7" y="703.05" width="747.60" height="45" fill="#fff" stroke="#000" stroke-width="2.4"/>
<line x1="515" x2="588" y1="725.55" y2="725.55" stroke="#E3171C" stroke-width="4.2" stroke-linecap="round"/>
<text x="595.5" y="736.85" class="lg">Original data</text>
<line x1="777" x2="850" y1="725.55" y2="725.55" stroke="#2E75B6" stroke-width="4.2" stroke-linecap="round"/>
<rect x="549" y="724.05" width="5" height="3" fill="#E3171C"/>
<rect x="811" y="724.05" width="5" height="3" fill="#2E75B6"/>
<text x="857.5" y="736.85" class="lg">Nonlinear Physical Prediction</text>
<text x="777.5" y="1427.6" text-anchor="middle" class="lb">Time</text>
</svg>
</body></html>
